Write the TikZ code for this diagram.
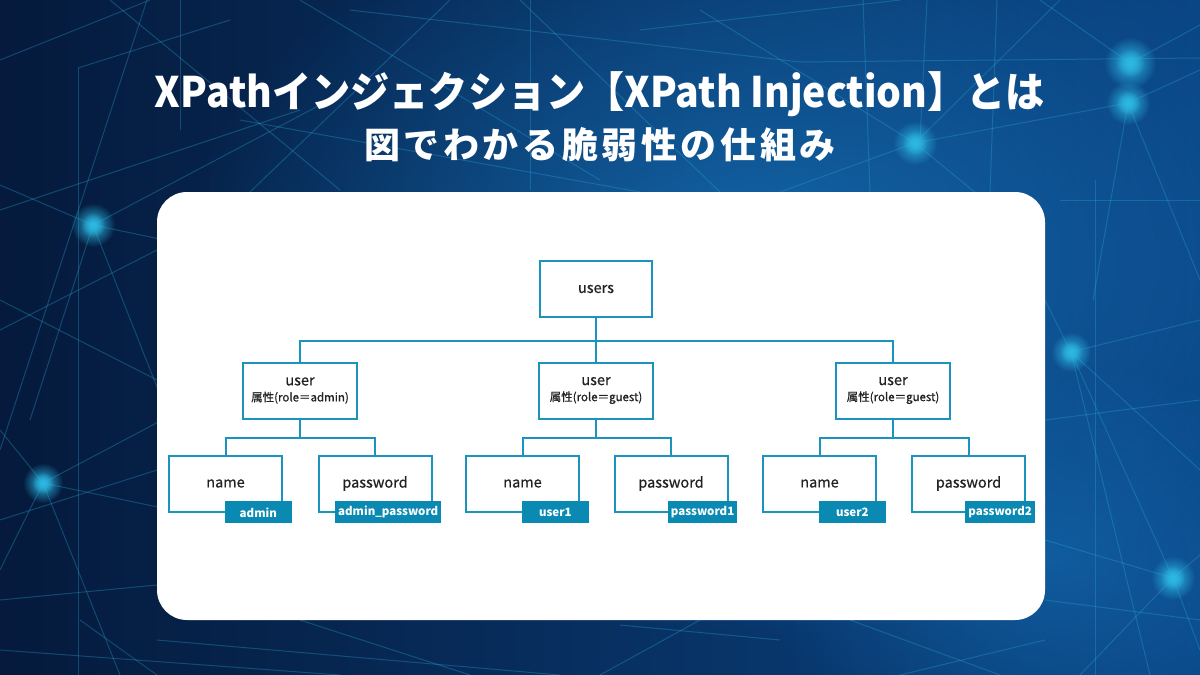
\documentclass[tikz,border=0pt]{standalone}
\usepackage{fontspec}
\usepackage{graphicx}
\setmainfont{Noto Sans CJK JP}
\newfontfamily\medfont{Noto Sans CJK JP}[FakeBold=0.6]
\usetikzlibrary{fadings}
\definecolor{bgdark}{HTML}{051A3C}
\definecolor{bgmid}{HTML}{0A4585}
\definecolor{bglight}{HTML}{1672B8}
\definecolor{net}{HTML}{2BA8D8}
\definecolor{glow}{HTML}{2DB8E2}
\definecolor{teal}{HTML}{1A93BE}
\definecolor{tagfill}{HTML}{0A8AB3}
\definecolor{ink}{HTML}{222222}
\tikzfading[name=softfade, inner color=transparent!0, outer color=transparent!100]
\begin{document}
\begin{tikzpicture}[x=1pt,y=-1pt,
  box/.style={draw=teal, line width=2pt, fill=white, minimum width=113pt, minimum height=56pt,
    inner sep=0pt, text=ink, align=center, font=\medfont\fontsize{14.5}{16}\selectfont},
  userbox/.style={box, minimum width=114pt},
  tag/.style={fill=tagfill, text=white, font=\bfseries\fontsize{11.5}{13}\selectfont,
    minimum width=67pt, minimum height=22pt, inner xsep=3pt, inner ysep=2pt, anchor=south east},
  link/.style={draw=teal, line width=2pt},
  netline/.style={draw=net, line width=1pt, opacity=.32},
  glowdot/.style={fill=glow, path fading=softfade},
]
\useasboundingbox (0,0) rectangle (1200,675);
% background
\shade[left color=bgdark, right color=bgmid] (0,0) rectangle (1200,675);
\fill[bglight, path fading=softfade, opacity=.8] (760,260) ellipse (580 and 380);
\fill[bglight, path fading=softfade, opacity=.55] (1050,560) ellipse (300 and 200);
% network lines
\foreach \a/\b/\c/\d in {
  0/60/150/0, 147/0/0/450, 78/68/78/675, 78/68/230/20, 0/210/300/110,
  93/225/0/185, 93/225/320/105, 93/225/170/420, 93/225/30/420, 93/225/260/260,
  0/330/157/250, 0/300/157/380,
  43/483/0/430, 43/483/200/400, 43/483/120/675, 43/483/0/570, 43/483/220/520,
  0/600/157/585, 0/650/340/675, 157/640/560/675, 300/620/470/675, 700/620/600/675,
  80/620/157/675, 0/520/157/470,
  110/0/340/190, 300/0/600/180, 450/0/250/192, 520/0/720/192, 640/30/900/0,
  350/10/800/62, 240/120/640/192, 180/0/180/130, 530/0/530/190,
  800/62/1200/58, 863/0/870/192, 927/0/920/140, 997/0/990/192,
  1130/63/1200/25, 1130/63/1040/0, 1128/103/1200/70, 1128/103/915/143,
  1128/103/1093/300, 1128/103/1200/280, 915/143/780/192, 915/143/1060/0,
  915/143/700/10, 915/143/1045/250,
  1071/352/1200/320, 1071/352/1045/300, 1071/352/1173/578, 1071/352/1150/675,
  1071/352/1200/470, 1045/420/1200/400,
  1173/578/1200/555, 1173/578/1045/540, 1173/578/1080/675, 1173/578/1200/650,
  1095/180/1095/675, 1045/600/1200/620, 1045/640/900/675, 1060/200/1200/200,
  850/620/1000/675, 620/625/780/640}
  {\draw[netline] (\a,\b) -- (\c,\d);}
\foreach \x/\y/\r in {93/225/22, 43/483/20, 1130/63/26, 1128/103/22, 915/143/22,
  1071/352/20, 1173/578/22}
  {\fill[glowdot] (\x,\y) circle (\r);
   \fill[glowdot] (\x,\y) circle (\r*0.55);}
% titles
\node[anchor=base, text=white, font=\bfseries\fontsize{42}{50}\selectfont]
  (title) at (600,107) {\resizebox{890pt}{\height}{XPathインジェクション【XPath Injection】とは}};
\node[anchor=base, text=white, font=\bfseries\fontsize{36}{42}\selectfont]
  (subtitle) at (600,158) {\addfontfeature{LetterSpace=10}図でわかる脆弱性の仕組み};
% panel
\fill[white, rounded corners=30pt] (157,192) rectangle (1045,620);
% tree
\node[box, minimum width=112pt] (users) at (596,289) {users};
\node[userbox] (u1) at (300,390.5) {user\\[0pt]{\fontsize{11.5}{13}\selectfont 属性(role＝admin)}};
\node[userbox] (u2) at (596,390.5) {user\\[0pt]{\fontsize{11.5}{13}\selectfont 属性(role＝guest)}};
\node[userbox] (u3) at (893,390.5) {user\\[0pt]{\fontsize{11.5}{13}\selectfont 属性(role＝guest)}};
\node[box] (n1) at (225.5,483.5) {name};
\node[box] (p1) at (375,483.5) {password};
\node[box] (n2) at (522.5,483.5) {name};
\node[box] (p2) at (671,483.5) {password};
\node[box] (n3) at (819.5,483.5) {name};
\node[box] (p3) at (968.5,483.5) {password};
\draw[link] (users.south) -- ++(0,23) coordinate (j0);
\draw[link] (u1.north) |- (j0) -| (u3.north);
\draw[link] (j0) -- (u2.north);
\foreach \i in {1,2,3}{
  \draw[link] (u\i.south) -- ++(0,18) coordinate (j\i);
  \draw[link] (n\i.north) |- (j\i) -| (p\i.north);
}
\node[tag] (t1) at ([shift={(9,11)}]n1.south east) {admin};
\node[tag] (q1) at ([shift={(9,11)}]p1.south east) {admin\_password};
\node[tag] (t2) at ([shift={(9,11)}]n2.south east) {user1};
\node[tag] (q2) at ([shift={(9,11)}]p2.south east) {password1};
\node[tag] (t3) at ([shift={(9,11)}]n3.south east) {user2};
\node[tag] (q3) at ([shift={(9,11)}]p3.south east) {password2};
\end{tikzpicture}
\end{document}
